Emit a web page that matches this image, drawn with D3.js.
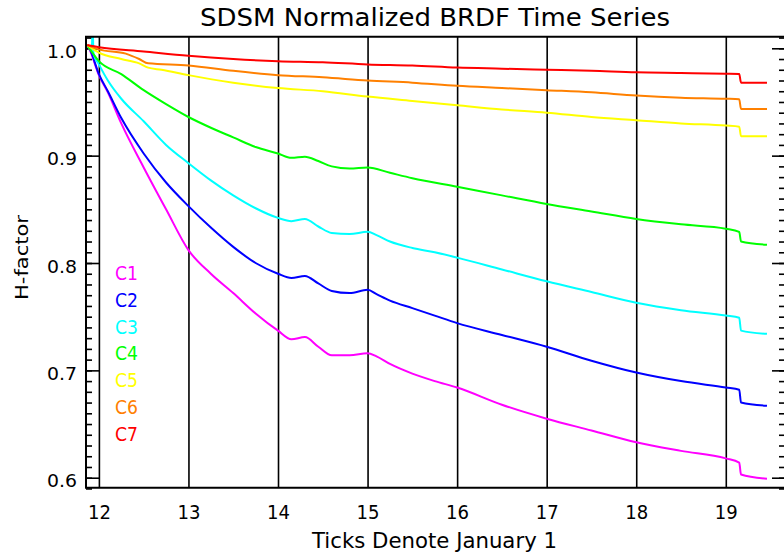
<!DOCTYPE html>
<html>
<head>
<meta charset="utf-8">
<script src="https://cdn.jsdelivr.net/npm/d3@7"></script>
<style>
  body { margin: 0; background: #fff; }
  text { font-family: "DejaVu Sans", sans-serif; }
</style>
</head>
<body>
<svg id="chart" width="784" height="557"></svg>
<script>
// year ticks (January 1 of each year, 2-digit)
const yearTicks = [12, 13, 14, 15, 16, 17, 18, 19];
const hMajor = [0.6, 0.7, 0.8, 0.9, 1.0];
const hMinor = d3.range(59, 102).map(d => d / 100);

const seriesNames = ["C1", "C2", "C3", "C4", "C5", "C6", "C7"];
const seriesColors = ["#ff00ff", "#0000ff", "#00ffff", "#00ff00", "#ffff00", "#ff8000", "#ff0000"];

// [year, H-factor]
const c1 = [[11.87,1.003],[11.9,0.998],[12.0,0.975],[12.1,0.959],[12.25,0.93],[12.5,0.889],[12.75,0.85],[13.0,0.812],
  [13.25,0.79],[13.5,0.772],[13.75,0.753],[14.0,0.737],[14.15,0.729],[14.3,0.731],[14.45,0.722],[14.6,0.714],[14.8,0.714],
  [15.0,0.716],[15.1,0.713],[15.25,0.706],[15.5,0.697],[15.75,0.69],[16.0,0.684],[16.5,0.668],[17.0,0.655],[17.5,0.644],
  [18.0,0.633],[18.5,0.625],[19.0,0.618],[19.15,0.614],[19.17,0.603],[19.46,0.599]];
const c2 = [[11.87,1.003],[11.9,0.999],[12.0,0.976],[12.1,0.96],[12.25,0.935],[12.5,0.902],[12.75,0.875],[13.0,0.853],
  [13.25,0.833],[13.5,0.815],[13.75,0.8],[14.0,0.79],[14.15,0.786],[14.3,0.788],[14.45,0.781],[14.6,0.774],[14.8,0.772],
  [15.0,0.775],[15.1,0.771],[15.25,0.765],[15.5,0.758],[15.75,0.751],[16.0,0.744],[16.5,0.733],[17.0,0.722],[17.5,0.709],
  [18.0,0.698],[18.5,0.69],[19.0,0.684],[19.15,0.682],[19.17,0.67],[19.46,0.667]];
const c3 = [[11.87,1.003],[11.92,0.998],[11.93,1.02],[11.94,0.995],[12.0,0.985],[12.1,0.97],[12.25,0.953],[12.5,0.932],
  [12.75,0.91],[13.0,0.893],[13.25,0.877],[13.5,0.863],[13.75,0.851],[14.0,0.842],[14.15,0.839],[14.3,0.841],[14.45,0.834],
  [14.6,0.828],[14.8,0.827],[15.0,0.829],[15.1,0.826],[15.25,0.82],[15.5,0.814],[15.75,0.81],[16.0,0.805],[16.5,0.794],
  [17.0,0.783],[17.5,0.773],[18.0,0.763],[18.5,0.756],[19.0,0.751],[19.15,0.749],[19.17,0.737],[19.46,0.734]];
const c4 = [[11.87,1.003],[12.0,0.988],[12.25,0.976],[12.5,0.961],[12.75,0.948],[13.0,0.936],[13.25,0.926],[13.5,0.917],
  [13.75,0.908],[14.0,0.902],[14.15,0.898],[14.3,0.899],[14.45,0.895],[14.6,0.89],[14.8,0.888],[15.0,0.889],[15.25,0.884],
  [15.5,0.879],[16.0,0.871],[16.5,0.863],[17.0,0.855],[17.5,0.848],[18.0,0.841],[18.5,0.836],[19.0,0.832],[19.15,0.829],
  [19.17,0.82],[19.46,0.817]];
const c5 = [[11.87,1.003],[12.0,0.996],[12.25,0.99],[12.45,0.986],[12.55,0.982],[12.7,0.98],[13.0,0.975],[13.5,0.968],
  [14.0,0.963],[14.5,0.96],[15.0,0.955],[15.5,0.951],[16.0,0.947],[16.5,0.943],[17.0,0.94],[17.5,0.936],[18.0,0.933],
  [18.5,0.93],[19.0,0.928],[19.15,0.927],[19.17,0.918],[19.46,0.918]];
const c6 = [[11.87,1.003],[12.0,0.999],[12.3,0.995],[12.45,0.99],[12.55,0.986],[13.0,0.984],[13.5,0.979],[14.0,0.975],
  [14.5,0.973],[15.0,0.97],[15.5,0.968],[16.0,0.965],[16.5,0.963],[17.0,0.961],[17.5,0.959],[18.0,0.956],[18.5,0.954],
  [19.0,0.953],[19.15,0.9525],[19.17,0.9435],[19.46,0.9435]];
const c7 = [[11.87,1.003],[12.0,1.001],[12.5,0.997],[13.0,0.993],[13.5,0.99],[14.0,0.988],[14.5,0.987],[15.0,0.985],
  [15.5,0.984],[16.0,0.982],[16.5,0.981],[17.0,0.98],[17.5,0.979],[18.0,0.9776],[18.5,0.977],[19.0,0.9763],[19.15,0.976],
  [19.17,0.968],[19.46,0.968]];
const allSeries = [c1, c2, c3, c4, c5, c6, c7];

const svg = d3.select("#chart");
const plotLeft = 86, plotRight = 784, plotTop = 36.7, plotBottom = 487.7;

const x = d3.scaleLinear().domain([11.856, 19.65]).range([plotLeft, plotRight]);
const y = d3.scaleLinear().domain([0.5907, 1.0108]).range([plotBottom, plotTop]);

svg.append("rect").attr("width", 784).attr("height", 557).attr("fill", "#fff");

svg.append("defs").append("clipPath").attr("id", "plotclip")
  .append("rect").attr("x", plotLeft).attr("y", plotTop)
  .attr("width", plotRight - plotLeft).attr("height", plotBottom - plotTop);

// vertical year lines + labels
const xAxis = svg.append("g")
  .attr("transform", `translate(0,${plotBottom})`)
  .call(d3.axisBottom(x).tickValues(yearTicks).tickSizeInner(-(plotBottom - plotTop)).tickSizeOuter(0)
    .tickPadding(17).tickFormat(d3.format("d")));
xAxis.select(".domain").remove();
xAxis.selectAll("line").attr("stroke", "#000").attr("stroke-width", 1.6);
xAxis.selectAll("text").attr("font-size", 20).attr("fill", "#000")
  .attr("font-family", "DejaVu Sans").attr("textLength", 23).attr("lengthAdjust", "spacingAndGlyphs");

// left axis: minor then major ticks
const yMinorL = svg.append("g").attr("transform", `translate(${plotLeft},0)`)
  .call(d3.axisLeft(y).tickValues(hMinor).tickSizeInner(-6).tickSizeOuter(0).tickFormat(""));
const yMajorL = svg.append("g").attr("transform", `translate(${plotLeft},0)`)
  .call(d3.axisLeft(y).tickValues(hMajor).tickSizeInner(-13).tickSizeOuter(0).tickPadding(9).tickFormat(d3.format(".1f")));
yMajorL.selectAll("text").attr("font-size", 18).attr("fill", "#000").attr("dy", "0.5em")
  .attr("font-family", "DejaVu Sans").attr("textLength", 30).attr("lengthAdjust", "spacingAndGlyphs");

// right axis ticks
const yMinorR = svg.append("g").attr("transform", `translate(${plotRight},0)`)
  .call(d3.axisLeft(y).tickValues(hMinor).tickSizeInner(5).tickSizeOuter(0).tickFormat(""));
const yMajorR = svg.append("g").attr("transform", `translate(${plotRight},0)`)
  .call(d3.axisLeft(y).tickValues(hMajor).tickSizeInner(12).tickSizeOuter(0).tickFormat(""));

[yMinorL, yMajorL, yMinorR, yMajorR].forEach(g => {
  g.select(".domain").remove();
  g.selectAll("line").attr("stroke", "#000").attr("stroke-width", 1.6);
});

// curves
const line = d3.line().curve(d3.curveMonotoneX).x(d => x(d[0])).y(d => y(d[1]));
svg.append("g").attr("clip-path", "url(#plotclip)")
  .selectAll("path")
  .data(allSeries)
  .join("path")
  .attr("d", line)
  .attr("fill", "none")
  .attr("stroke", (d, i) => seriesColors[i])
  .attr("stroke-width", 2)
  .attr("stroke-linejoin", "round");

// frame
svg.append("path")
  .attr("d", `M${plotRight + 1},${plotTop}H${plotLeft}V${plotBottom}H${plotRight + 1}`)
  .attr("fill", "none").attr("stroke", "#000").attr("stroke-width", 2);

// legend
svg.append("g").selectAll("text")
  .data(seriesNames)
  .join("text")
  .attr("x", 115)
  .attr("y", (d, i) => 280 + i * 26.8)
  .attr("font-size", 20)
  .attr("fill", (d, i) => seriesColors[i])
  .attr("textLength", 23).attr("lengthAdjust", "spacingAndGlyphs")
  .text(d => d);

// titles
svg.append("text")
  .attr("x", 200).attr("y", 26)
  .attr("font-size", 24)
  .attr("textLength", 470).attr("lengthAdjust", "spacingAndGlyphs")
  .text("SDSM Normalized BRDF Time Series");

svg.append("text")
  .attr("x", 312).attr("y", 548)
  .attr("font-size", 21)
  .attr("textLength", 245).attr("lengthAdjust", "spacingAndGlyphs")
  .text("Ticks Denote January 1");

svg.append("text")
  .attr("transform", "translate(27.5,300) rotate(-90)")
  .attr("font-size", 18)
  .attr("textLength", 85).attr("lengthAdjust", "spacingAndGlyphs")
  .text("H-factor");
</script>
</body>
</html>
